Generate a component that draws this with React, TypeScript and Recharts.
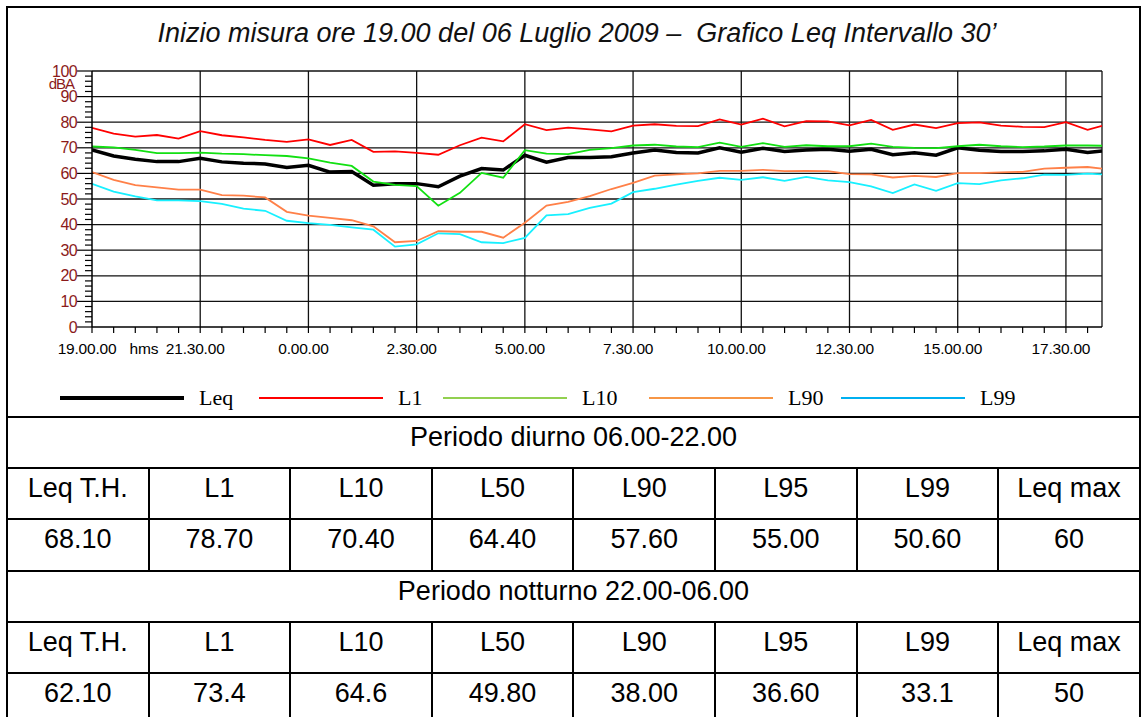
import React from 'react';
import { LineChart, Line, XAxis, YAxis, ReferenceLine } from 'recharts';

// minutes elapsed from 19.00.00 (one sample every 30')
const minutes = [0, 30, 60, 90, 120, 150, 180, 210, 240, 270, 300, 330, 360, 390, 420, 450, 480, 510, 540, 570, 600, 630, 660, 690, 720, 750, 780, 810, 840, 870, 900, 930, 960, 990, 1020, 1050, 1080, 1110, 1140, 1170, 1200, 1230, 1260, 1290, 1320, 1350, 1380, 1400];

const leq = [69.2, 66.8, 65.5, 64.6, 64.6, 65.9, 64.5, 64.0, 63.7, 62.3, 63.2, 60.5, 60.7, 55.4, 56.0,
  56.0, 54.8, 58.9, 61.9, 61.3, 67.1, 64.4, 66.2, 66.2, 66.5, 68.0, 69.1, 68.2, 68.0, 70.0, 68.3, 69.8,
  68.6, 69.1, 69.4, 68.7, 69.4, 67.3, 68.1, 67.1, 70.0, 69.0, 68.6, 68.6, 68.8, 69.4, 68.2, 68.8];
const l1 = [77.8, 75.5, 74.4, 75.0, 73.6, 76.5, 74.9, 74.1, 73.1, 72.3, 73.3, 71.1, 73.1, 68.4, 68.6,
  68.0, 67.3, 71.0, 74.0, 72.5, 79.2, 76.9, 77.9, 77.2, 76.4, 78.7, 79.2, 78.6, 78.5, 81.1, 79.1, 81.4,
  78.4, 80.4, 80.3, 78.8, 80.9, 77.0, 79.1, 77.7, 79.6, 79.9, 78.7, 78.2, 78.1, 80.0, 77.0, 78.6];
const l10 = [70.5, 70.2, 69.2, 67.9, 67.9, 68.1, 67.7, 67.5, 67.1, 66.8, 65.9, 64.2, 62.9, 56.8, 55.5,
  55.0, 47.4, 52.4, 60.2, 58.3, 69.1, 67.7, 67.5, 69.2, 69.9, 70.9, 71.2, 70.5, 70.3, 72.0, 70.4, 71.8,
  70.4, 71.0, 70.6, 70.6, 71.6, 70.4, 70.0, 69.9, 70.6, 71.2, 70.6, 70.3, 70.5, 70.9, 70.9, 70.8];
const l90 = [60.5, 57.5, 55.4, 54.5, 53.7, 53.7, 51.5, 51.3, 50.6, 45.0, 43.5, 42.6, 41.7, 39.3, 33.1,
  33.6, 37.4, 37.2, 37.2, 34.9, 40.7, 47.4, 48.9, 51.1, 53.9, 56.3, 59.1, 59.6, 60.0, 61.0, 61.0, 61.4,
  60.9, 61.0, 60.9, 59.7, 59.6, 58.4, 59.0, 58.6, 60.1, 60.1, 60.4, 60.6, 61.9, 62.2, 62.5, 61.9];
const l99 = [55.9, 52.9, 51.0, 49.5, 49.5, 49.2, 48.1, 46.2, 45.4, 41.5, 40.6, 39.9, 38.9, 38.0, 31.4,
  32.3, 36.6, 36.3, 33.1, 32.8, 34.8, 43.6, 44.1, 46.5, 48.2, 52.7, 54.0, 55.6, 57.1, 58.3, 57.5, 58.5,
  57.1, 58.6, 57.3, 56.6, 54.9, 52.3, 55.7, 53.2, 56.2, 55.8, 57.3, 58.1, 59.5, 59.4, 59.9, 59.6];

const majorMinutes = [0, 150, 300, 450, 600, 750, 900, 1050, 1200, 1350];
const majorLabels = ['19.00.00', '21.30.00', '0.00.00', '2.30.00', '5.00.00', '7.30.00', '10.00.00', '12.30.00', '15.00.00', '17.30.00'];
const xMinorTicks = [0, 30, 60, 90, 120, 150, 180, 210, 240, 270, 300, 330, 360, 390, 420, 450, 480, 510, 540, 570, 600, 630, 660, 690, 720, 750, 780, 810, 840, 870, 900, 930, 960, 990, 1020, 1050, 1080, 1110, 1140, 1170, 1200, 1230, 1260, 1290, 1320, 1350, 1380];
const yTicks = [0, 2, 4, 6, 8, 10, 12, 14, 16, 18, 20, 22, 24, 26, 28, 30, 32, 34, 36, 38, 40, 42, 44, 46, 48, 50, 52, 54, 56, 58, 60, 62, 64, 66, 68, 70, 72, 74, 76, 78, 80, 82, 84, 86, 88, 90, 92, 94, 96, 98, 100];
const yGrid = [10, 20, 30, 40, 50, 60, 70, 80, 90, 100];
const xGrid = [150, 300, 450, 600, 750, 900, 1050, 1200, 1350, 1400];

const seriesNames = ['Leq', 'L1', 'L10', 'L90', 'L99'];
const lineColors = ['#000000', '#FF0000', '#12E012', '#FF8048', '#18F0FF'];
const lineWidths = [3.5, 1.8, 1.8, 1.8, 1.8];
const legendColors = ['#000000', '#FF0000', '#92D050', '#F79646', '#00B0F0'];
const legendLeft = [60, 259, 443, 649, 841];

const title = 'Inizio misura ore 19.00 del 06 Luglio 2009 \u2013  Grafico Leq Intervallo 30\u2019';
const headers = ['Leq T.H.', 'L1', 'L10', 'L50', 'L90', 'L95', 'L99', 'Leq max'];
const dayTitle = 'Periodo diurno 06.00-22.00';
const dayValues = ['68.10', '78.70', '70.40', '64.40', '57.60', '55.00', '50.60', '60'];
const nightTitle = 'Periodo notturno 22.00-06.00';
const nightValues = ['62.10', '73.4', '64.6', '49.80', '38.00', '36.60', '33.1', '50'];

const data = minutes.map((m, i) => ({ m, Leq: leq[i], L1: l1[i], L10: l10[i], L90: l90[i], L99: l99[i] }));

const SANS = '"Liberation Sans", Arial, sans-serif';
const SERIF = '"Liberation Serif", "Times New Roman", serif';
const AXIS_RED = '#8B1A1A';

const YTick = (props: any) => {
  const { x, y, payload } = props;
  const v = payload.value;
  const major = v % 10 === 0;
  return (
    <g>
      <line x1={x - (major ? 15 : 7)} x2={x} y1={y} y2={y} stroke="#000" strokeWidth={1.2} />
      {major && (
        <text x={x - 15} y={y} dy={5.5} textAnchor="end" fill={AXIS_RED} fontSize={16} fontFamily={SANS} letterSpacing={-0.6}>
          {v}
        </text>
      )}
      {v === 100 && (
        <text x={x - 18} y={y + 18} textAnchor="end" fill={AXIS_RED} fontSize={15} fontFamily={SANS} letterSpacing={-1}>
          dBA
        </text>
      )}
    </g>
  );
};

const XTick = (props: any) => {
  const { x, y, payload } = props;
  const v = payload.value;
  const idx = majorMinutes.indexOf(v);
  return (
    <g>
      <line x1={x} x2={x} y1={y} y2={y + 6} stroke="#000" strokeWidth={1.2} />
      {idx >= 0 && (
        <text x={x - 5} y={y + 27} textAnchor="middle" fill="#000" fontSize={15.5} fontFamily={SANS} letterSpacing={-0.2}>
          {majorLabels[idx]}
        </text>
      )}
      {v === 150 && (
        <text x={x - 42} y={y + 27} textAnchor="end" fill="#000" fontSize={15.5} fontFamily={SANS} letterSpacing={-0.2}>
          hms
        </text>
      )}
    </g>
  );
};

const ROW_TOP = 416.7;
const ROW_H = 51.3;
const COL_W = 141.6;
const TBL_LEFT = 7;
const TBL_RIGHT = 1140;

function TableBlock() {
  const rows: { kind: 'title' | 'cells'; text?: string; cells?: string[] }[] = [
    { kind: 'title', text: dayTitle },
    { kind: 'cells', cells: headers },
    { kind: 'cells', cells: dayValues },
    { kind: 'title', text: nightTitle },
    { kind: 'cells', cells: headers },
    { kind: 'cells', cells: nightValues },
  ];
  const els: React.ReactNode[] = [];
  const textStyle: React.CSSProperties = { position: 'absolute', lineHeight: '26px', fontSize: 27, fontFamily: SANS, textAlign: 'center', color: '#000' };
  rows.forEach((r, ri) => {
    const top = ROW_TOP + ri * ROW_H;
    els.push(
      <div key={'h' + ri} style={{ position: 'absolute', left: TBL_LEFT, width: TBL_RIGHT - TBL_LEFT, top: top - 1, height: 2, background: '#000' }} />
    );
    if (r.kind === 'title') {
      els.push(
        <div key={'t' + ri} style={{ ...textStyle, left: TBL_LEFT, width: TBL_RIGHT - TBL_LEFT, top: top + 7 }}>
          {r.text}
        </div>
      );
    } else {
      r.cells!.forEach((c, ci) => {
        const left = TBL_LEFT + ci * COL_W;
        if (ci > 0) {
          els.push(<div key={'v' + ri + '_' + ci} style={{ position: 'absolute', left: left - 1, width: 2, top, height: ROW_H, background: '#000' }} />);
        }
        els.push(
          <div key={'c' + ri + '_' + ci} style={{ ...textStyle, left, width: COL_W, top: top + 7 }}>
            {c}
          </div>
        );
      });
    }
  });
  return <>{els}</>;
}

export default function App() {
  return (
    <div style={{ position: 'fixed', left: 0, top: 0, width: 1146, height: 717, background: '#fff', overflow: 'hidden' }}>
      {/* outer frame */}
      <div style={{ position: 'absolute', left: 6, top: 6, width: 1131, height: 730, border: '2px solid #000' }} />
      {/* title */}
      <div style={{ position: 'absolute', left: 4, top: 20, width: 1146, textAlign: 'center', fontFamily: SANS, fontStyle: 'italic', fontSize: 27, lineHeight: '26px', color: '#111', whiteSpace: 'pre' }}>
        {title}
      </div>
      <div style={{ position: 'absolute', left: 0, top: 0 }}>
        <LineChart width={1146} height={400} data={data} margin={{ top: 71, right: 44, left: 32, bottom: 43 }}>
          <XAxis
            dataKey="m"
            type="number"
            domain={[0, 1400]}
            ticks={xMinorTicks}
            interval={0}
            tickLine={false}
            tickSize={0}
            tickMargin={0}
            height={30}
            axisLine={{ stroke: '#000', strokeWidth: 1.5 }}
            tick={<XTick />}
            allowDataOverflow
          />
          <YAxis
            type="number"
            domain={[0, 100]}
            ticks={yTicks}
            interval={0}
            tickLine={false}
            tickSize={0}
            tickMargin={0}
            width={60}
            axisLine={{ stroke: '#000', strokeWidth: 1.5 }}
            tick={<YTick />}
            allowDataOverflow
          />
          {yGrid.map((v) => (
            <ReferenceLine key={'y' + v} y={v} stroke="#111" strokeWidth={1.3} />
          ))}
          {xGrid.map((v) => (
            <ReferenceLine key={'x' + v} x={v} stroke="#111" strokeWidth={1.3} />
          ))}
          {seriesNames.map((n, i) => (
            <Line
              key={n}
              type="linear"
              dataKey={n}
              stroke={lineColors[i]}
              strokeWidth={lineWidths[i]}
              dot={false}
              activeDot={false}
              isAnimationActive={false}
            />
          ))}
        </LineChart>
      </div>
      {/* legend */}
      {seriesNames.map((n, i) => (
        <div key={'lg' + n} style={{ position: 'absolute', left: legendLeft[i], top: 384, height: 28, display: 'flex', alignItems: 'center' }}>
          <div style={{ width: 124, height: i === 0 ? 4 : 2, background: legendColors[i] }} />
          <div style={{ marginLeft: 15, fontFamily: SERIF, fontSize: 22, lineHeight: '28px', color: '#000' }}>{n}</div>
        </div>
      ))}
      <TableBlock />
    </div>
  );
}
